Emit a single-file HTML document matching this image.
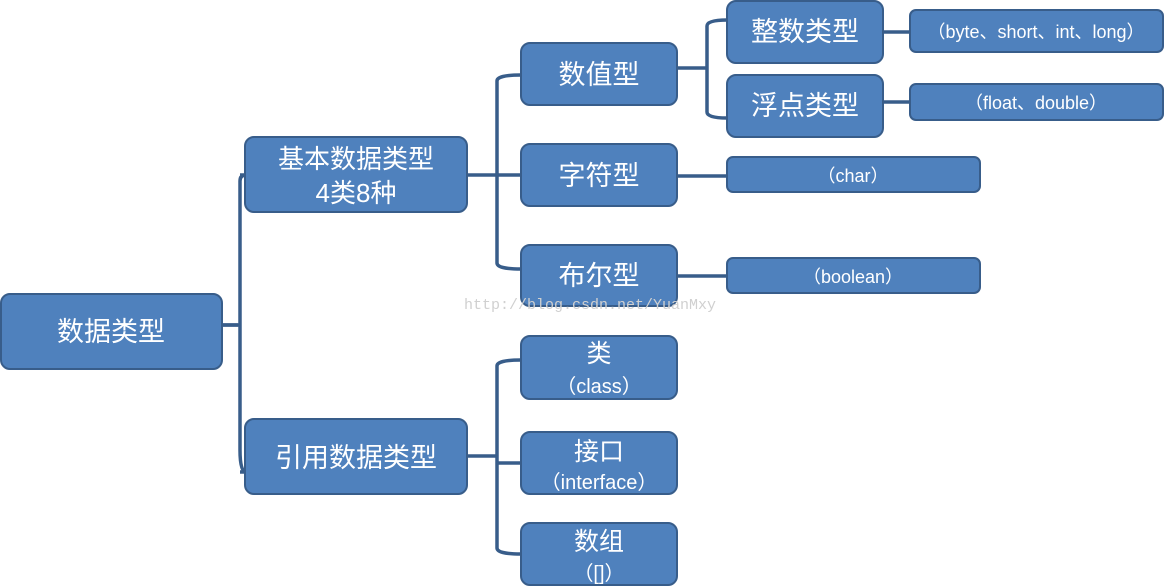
<!DOCTYPE html>
<html><head><meta charset="utf-8"><style>
html,body{margin:0;padding:0;background:#fff;}
svg{display:block;}
text{font-family:"Liberation Sans","Noto Sans CJK SC",sans-serif;fill:#fff;text-anchor:middle;}
.b{fill:#4f81bd;stroke:#385d8a;stroke-width:2;}
.l{fill:none;stroke:#385d8a;stroke-width:3.5;}
</style></head><body>
<svg width="1165" height="587" viewBox="0 0 1165 587" xmlns="http://www.w3.org/2000/svg">
<!-- connectors -->
<path class="l" d="M222 325 H238 M245 175 H246 Q240 175 240 181 V450 Q240 472 246 472"/>
<path class="l" d="M240 175 H246 M240 472 H246 M222 325 L240 325"/>
<path class="l" d="M467 175 H497 M521 75 Q497 75 497 81 V263 Q497 269 521 269"/>
<path class="l" d="M497 175 H521"/>
<path class="l" d="M467 456 H497 M521 360 Q497 360 497 366 V548 Q497 554 521 554"/>
<path class="l" d="M497 463 H521"/>
<path class="l" d="M677 68 H707 M727 20 Q707 20 707 26 V112 Q707 118 727 118"/>
<path class="l" d="M883 32 H910 M883 102 H910 M677 176 H727 M677 276 H727"/>
<!-- boxes -->
<rect class="b" x="1" y="294" width="221" height="75" rx="9"/>
<rect class="b" x="245" y="137" width="222" height="75" rx="9"/>
<rect class="b" x="245" y="419" width="222" height="75" rx="9"/>
<rect class="b" x="521" y="43" width="156" height="62" rx="9"/>
<rect class="b" x="521" y="144" width="156" height="62" rx="9"/>
<rect class="b" x="521" y="245" width="156" height="61" rx="9"/>
<rect class="b" x="521" y="336" width="156" height="63" rx="9"/>
<rect class="b" x="521" y="432" width="156" height="62" rx="9"/>
<rect class="b" x="521" y="523" width="156" height="62" rx="9"/>
<rect class="b" x="727" y="1" width="156" height="62" rx="9"/>
<rect class="b" x="727" y="75" width="156" height="62" rx="9"/>
<rect class="b" x="910" y="10" width="253" height="42" rx="6"/>
<rect class="b" x="910" y="84" width="253" height="36" rx="6"/>
<rect class="b" x="727" y="157" width="253" height="35" rx="6"/>
<rect class="b" x="727" y="258" width="253" height="35" rx="6"/>
<!-- labels -->
<text x="111" y="341" font-size="27">数据类型</text>
<text x="356" y="168" font-size="26">基本数据类型</text>
<text x="356" y="202" font-size="26">4类8种</text>
<text x="356" y="467" font-size="27">引用数据类型</text>
<text x="599" y="84" font-size="27">数值型</text>
<text x="599" y="185" font-size="27">字符型</text>
<text x="599" y="285" font-size="27">布尔型</text>
<text x="599" y="362" font-size="25">类</text>
<text x="599" y="393" font-size="20">（class）</text>
<text x="599" y="460" font-size="25">接口</text>
<text x="599" y="489" font-size="20">（interface）</text>
<text x="599" y="550" font-size="25">数组</text>
<text x="599" y="580" font-size="20">（[]）</text>
<text x="805" y="41" font-size="27">整数类型</text>
<text x="805" y="115" font-size="27">浮点类型</text>
<text x="1036" y="38" font-size="18">（byte、short、int、long）</text>
<text x="1036" y="109" font-size="18">（float、double）</text>
<text x="853" y="182" font-size="18">（char）</text>
<text x="853" y="283" font-size="18">（boolean）</text>
<text x="590" y="309" font-size="15" style="fill:#d0d0d0;font-family:'Liberation Mono',monospace">http://blog.csdn.net/YuanMxy</text>
</svg>
</body></html>
